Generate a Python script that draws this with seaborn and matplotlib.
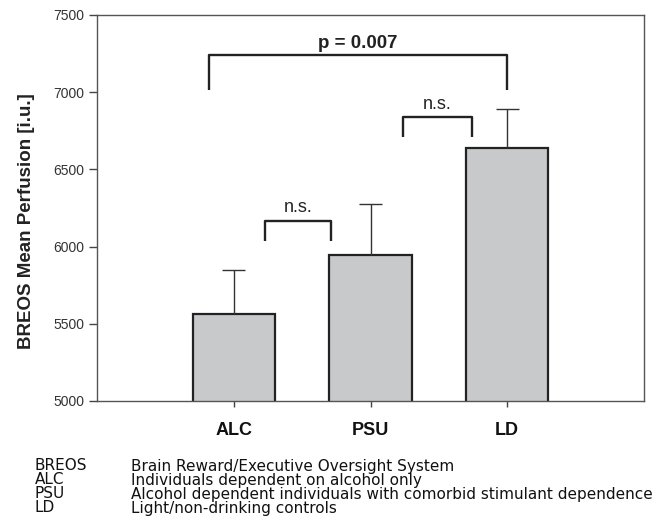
import matplotlib
matplotlib.use("Agg")
import matplotlib.pyplot as plt
import seaborn as sns
import pandas as pd

groups = ["ALC", "PSU", "LD"]
means = [5563, 5943, 6639]
upper_err = [287, 333, 254]
yticks = [5000, 5500, 6000, 6500, 7000, 7500]

brackets = [
    # (x_left, x_right, y_bottom, y_top, label, bold)
    (0.23, 0.71, 6034, 6166, "n.s.", False),
    (1.24, 1.74, 6708, 6838, "n.s.", False),
    (-0.18, 2.0, 7014, 7240, "p = 0.007", True),
]

legend_abbr = ["BREOS", "ALC", "PSU", "LD"]
legend_desc = [
    "Brain Reward/Executive Oversight System",
    "Individuals dependent on alcohol only",
    "Alcohol dependent individuals with comorbid stimulant dependence",
    "Light/non-drinking controls",
]

sns.set_style("white")
plt.rcParams["font.family"] = ["Liberation Sans", "DejaVu Sans"]

fig = plt.figure(figsize=(6.59, 5.30), dpi=100)
ax = fig.add_axes([97/659, 1 - 401/530, (644-97)/659, (401-15)/530])

df = pd.DataFrame({"group": groups, "mean": means})
sns.barplot(data=df, x="group", y="mean", ax=ax, color="#c8c9cb",
            width=0.6, edgecolor="#222222", linewidth=1.6, saturation=1)

tops = [m + e for m, e in zip(means, upper_err)]
xs = list(range(len(groups)))
ax.vlines(xs, means, tops, color="#333333", lw=1.0, zorder=3)
ax.hlines(tops, [x - 0.085 for x in xs], [x + 0.085 for x in xs],
          color="#333333", lw=1.0, zorder=3)

for xl, xr, yb, yt, lab, bold in brackets:
    ax.plot([xl, xl, xr, xr], [yb, yt, yt, yb], color="#222222", lw=1.7,
            solid_joinstyle="round", solid_capstyle="butt", zorder=4)
    ax.text((xl + xr) / 2, yt + (30 if not bold else 22), lab,
            ha="center", va="bottom",
            fontsize=13 if not bold else 13.5,
            fontweight="bold" if bold else "normal", color="#222222")

ax.set_xlim(-1, 3)
ax.set_ylim(5000, 7500)
ax.set_yticks(yticks)
ax.set_yticklabels([str(t) for t in yticks], fontsize=10, color="#333333")
ax.set_xticks(xs)
ax.set_xticklabels(groups, fontsize=13, fontweight="bold", color="#111111")
ax.set_xlabel("")
ax.set_ylabel("BREOS Mean Perfusion [i.u.]", fontsize=13.5, fontweight="bold",
              color="#222222")
ax.yaxis.set_label_coords(-0.113, 0.466)
ax.tick_params(axis="y", direction="out", length=6, width=1,
               color="#444444", left=True, pad=3)
ax.tick_params(axis="x", direction="out", length=4, width=1,
               color="#444444", bottom=True, pad=11)
for s in ax.spines.values():
    s.set_visible(True)
    s.set_color("#555555")
    s.set_linewidth(1.0)

y0 = 466
for i, (a, d) in enumerate(zip(legend_abbr, legend_desc)):
    yy = 1 - (y0 + 14 * i) / 530
    fig.text(35/659, yy, a, fontsize=11, va="center", ha="left",
             color="#111111", family=["DejaVu Sans"])
    fig.text(131/659, yy, d, fontsize=11, va="center", ha="left",
             color="#111111", family=["DejaVu Sans"])

fig.savefig("out.png", dpi=100)
